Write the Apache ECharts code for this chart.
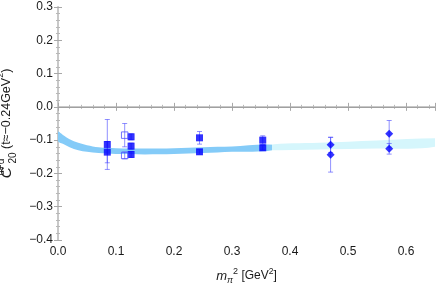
<!DOCTYPE html>
<html>
<head>
<meta charset="utf-8">
<script src="https://cdn.jsdelivr.net/npm/echarts@6/dist/echarts.min.js"></script>
<style>html,body{margin:0;padding:0;background:#fff;}#c{width:436px;height:284px;}</style>
</head>
<body>
<div id="c"></div>
<script>
// ---- data ----
var xTicks = [0.0, 0.1, 0.2, 0.3, 0.4, 0.5, 0.6];
var yTicks = [-0.4, -0.3, -0.2, -0.1, 0.0, 0.1, 0.2, 0.3];

// filled squares
var sqX   = [0.085, 0.085, 0.126, 0.126, 0.126, 0.244, 0.244, 0.353, 0.353];
var sqY   = [-0.113, -0.136, -0.090, -0.118, -0.143, -0.093, -0.135, -0.100, -0.123];
var sqErr = [0.075, 0.032, 0.009, 0.009, 0.009, 0.019, 0.007, 0.013, 0.007];

// open squares
var osX   = [0.115, 0.115];
var osY   = [-0.085, -0.146];
var osErr = [0.035, 0.010];

// diamonds
var dmX   = [0.470, 0.470, 0.571, 0.571];
var dmY   = [-0.114, -0.144, -0.081, -0.126];
var dmErr = [0.023, 0.052, 0.040, 0.016];

// chiral fit band (centre and half width)
var bandX   = [0.0, 0.01, 0.02, 0.035, 0.05, 0.07, 0.1, 0.15, 0.2, 0.25, 0.3, 0.369];
var bandMid = [-0.088, -0.099, -0.109, -0.119, -0.125, -0.130, -0.133, -0.134, -0.133, -0.130, -0.127, -0.122];
var bandHw  = [0.015, 0.013, 0.012, 0.011, 0.010, 0.009, 0.009, 0.009, 0.009, 0.009, 0.008, 0.008];

var extX   = [0.362, 0.45, 0.55, 0.65];
var extMid = [-0.1225, -0.118, -0.113, -0.107];
var extHw  = [0.008, 0.010, 0.012, 0.013];

// ---- build ----
function pts(xs, ys) { return xs.map(function (x, i) { return [x, ys[i]]; }); }
function errs(xs, ys, es) { return xs.map(function (x, i) { return [x, ys[i] - es[i], ys[i] + es[i]]; }); }

var allErr = errs(sqX, sqY, sqErr).concat(errs(osX, osY, osErr)).concat(errs(dmX, dmY, dmErr));
var bands = [
  { xs: extX, mid: extMid, hw: extHw, color: '#d5f6fc' },
  { xs: bandX, mid: bandMid, hw: bandHw, color: '#84cbf8' }
];

function fmt(v) {
  var s = Math.abs(v).toFixed(1);
  return (v < -1e-9 ? '\u2212' : '') + s;
}

var FONT = 'Liberation Sans';
var TXT = '#1a1a1a';
var chart = echarts.init(document.getElementById('c'), null, { renderer: 'canvas' });

var axisCommon = {
  type: 'value',
  axisTick: { inside: true, length: 4, lineStyle: { color: '#a8a8a8', width: 1 } },
  minorTick: { show: true, splitNumber: 5, length: 2, lineStyle: { color: '#b8b8b8', width: 1 } },
  splitLine: { show: false },
  minorSplitLine: { show: false }
};

var option = {
  animation: false,
  backgroundColor: '#fff',
  grid: { left: 58, right: 1, top: 7, bottom: 44, containLabel: false, outerBoundsMode: 'none' },
  xAxis: [
    Object.assign({}, axisCommon, {
      min: 0, max: 0.65, interval: 0.1,
      axisLine: { show: true, lineStyle: { color: '#c8c8c8', width: 2 } },
      axisLabel: { margin: 6, color: TXT, fontFamily: FONT, fontSize: 12, formatter: fmt,
                   customValues: xTicks, showMaxLabel: true },
      name: '{m|m}{sub|\u03c0}{sup|2}{n| [GeV}{s2|2}{n|]}',
      nameLocation: 'middle', nameGap: 27,
      nameTextStyle: {
        fontFamily: FONT, fontSize: 12, color: TXT,
        rich: {
          m: { fontFamily: FONT, fontSize: 13, fontStyle: 'italic', color: TXT, lineHeight: 18 },
          sub: { fontFamily: FONT, fontSize: 9, fontStyle: 'italic', color: TXT, verticalAlign: 'bottom', lineHeight: 18 },
          sup: { fontFamily: FONT, fontSize: 9, color: TXT, verticalAlign: 'top', lineHeight: 18 },
          n: { fontFamily: FONT, fontSize: 12, color: TXT, lineHeight: 18 },
          s2: { fontFamily: FONT, fontSize: 8.5, color: TXT, verticalAlign: 'top', lineHeight: 18 }
        }
      }
    }),
    Object.assign({}, axisCommon, {
      position: 'top', min: 0, max: 0.65, interval: 0.1,
      axisLine: { show: true, lineStyle: { color: '#c8c8c8', width: 1 } },
      axisLabel: { show: false }
    })
  ],
  yAxis: [
    Object.assign({}, axisCommon, {
      min: -0.4, max: 0.3, interval: 0.1,
      axisLine: { show: true, lineStyle: { color: '#c8c8c8', width: 2 } },
      axisLabel: { margin: 5, color: TXT, fontFamily: FONT, fontSize: 12, formatter: fmt,
                   customValues: yTicks },
      name: '{c|C}{sup|u+d}{sub|20}{n|(t\u2248\u22120.24GeV}{s2|2}{n|)}',
      nameLocation: 'middle', nameGap: 40, nameRotate: 90,
      nameTextStyle: {
        fontFamily: FONT, fontSize: 12.5, color: TXT,
        rich: {
          c: { fontFamily: FONT, fontSize: 15, fontStyle: 'italic', color: TXT, lineHeight: 22 },
          sup: { fontFamily: FONT, fontSize: 10, color: TXT, verticalAlign: 'top', lineHeight: 22, width: 0.5 },
          sub: { fontFamily: FONT, fontSize: 10, color: TXT, verticalAlign: 'bottom', lineHeight: 22, width: 18 },
          n: { fontFamily: FONT, fontSize: 12.5, color: TXT, lineHeight: 22 },
          s2: { fontFamily: FONT, fontSize: 9, color: TXT, verticalAlign: 'top', lineHeight: 22 }
        }
      }
    }),
    Object.assign({}, axisCommon, {
      position: 'right', min: -0.4, max: 0.3, interval: 0.1,
      axisLine: { show: true, lineStyle: { color: '#c8c8c8', width: 1 } },
      axisLabel: { show: false }
    })
  ],
  series: [
    { type: 'custom', data: bands.map(function (b, i) { return [i]; }), z: 1, silent: true,
      clip: true,
      renderItem: function (params, api) {
        var b = bands[params.dataIndex];
        var up = b.xs.map(function (x, i) { return api.coord([x, b.mid[i] + b.hw[i]]); });
        var lo = b.xs.map(function (x, i) { return api.coord([x, b.mid[i] - b.hw[i]]); }).reverse();
        var poly = up.concat(lo);
        var minX = Infinity, minY = Infinity, maxX = -Infinity, maxY = -Infinity;
        poly.forEach(function (p) {
          minX = Math.min(minX, p[0]); maxX = Math.max(maxX, p[0]);
          minY = Math.min(minY, p[1]); maxY = Math.max(maxY, p[1]);
        });
        return { type: 'polygon',
                 shape: { points: poly, smooth: 0.35, smoothConstraint: [[minX, minY], [maxX, maxY]] },
                 style: { fill: b.color, stroke: null } };
      },
      markLine: { silent: true, symbol: 'none', label: { show: false },
                  lineStyle: { color: '#a0a0a0', width: 1, type: 'solid' },
                  data: [{ yAxis: 0 }] } },
    { type: 'custom', data: allErr, z: 3, silent: true,
      renderItem: function (params, api) {
        var x = api.value(0);
        var lo = api.coord([x, api.value(1)]);
        var hi = api.coord([x, api.value(2)]);
        var cap = 2.5;
        var st = { stroke: 'rgba(70,70,255,0.6)', lineWidth: 1 };
        return { type: 'group', children: [
          { type: 'line', shape: { x1: lo[0], y1: lo[1], x2: hi[0], y2: hi[1] }, style: st },
          { type: 'line', shape: { x1: lo[0] - cap, y1: lo[1], x2: lo[0] + cap, y2: lo[1] }, style: st },
          { type: 'line', shape: { x1: hi[0] - cap, y1: hi[1], x2: hi[0] + cap, y2: hi[1] }, style: st }
        ] };
      } },
    { type: 'scatter', data: pts(sqX, sqY), symbol: 'rect', symbolSize: 7, z: 4,
      itemStyle: { color: '#0000ff' } },
    { type: 'scatter', data: pts(osX, osY), symbol: 'rect', symbolSize: 6.5, z: 4,
      itemStyle: { color: 'rgba(255,255,255,0)', borderColor: '#5050ff', borderWidth: 1 } },
    { type: 'scatter', data: pts(dmX, dmY), symbol: 'diamond', symbolSize: 8, z: 4,
      itemStyle: { color: '#0000ff' } }
  ]
};
chart.setOption(option);
</script>
</body>
</html>
